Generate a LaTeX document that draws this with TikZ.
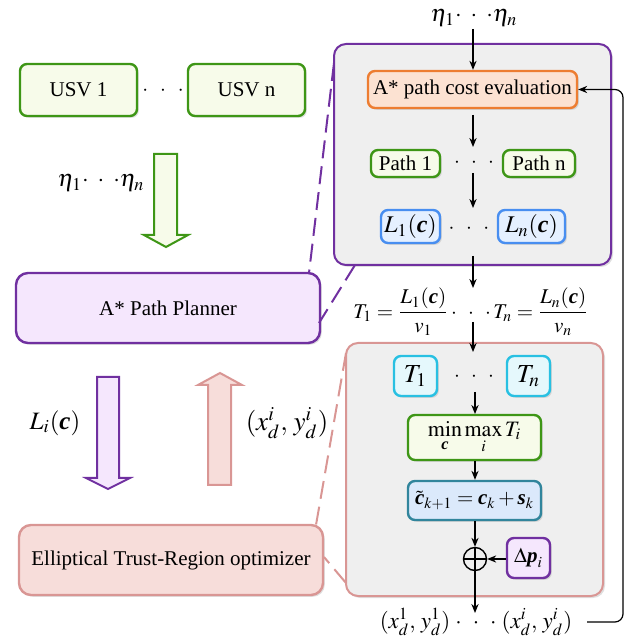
\documentclass[tikz,border=0pt]{standalone}
\usepackage{amsmath}
\usepackage{mathptmx}
\usepackage{fontspec}
\setmainfont{Liberation Serif}
\usetikzlibrary{shadows,arrows.meta,calc}
\definecolor{grnB}{RGB}{62,150,22}
\definecolor{grnF}{RGB}{247,251,234}
\definecolor{orB}{RGB}{237,125,49}
\definecolor{orF}{RGB}{252,226,210}
\definecolor{bluB}{RGB}{72,142,240}
\definecolor{bluF}{RGB}{229,240,255}
\definecolor{purB}{RGB}{112,48,160}
\definecolor{purF}{RGB}{245,231,253}
\definecolor{cyB}{RGB}{40,192,226}
\definecolor{cyF}{RGB}{229,248,252}
\definecolor{tealB}{RGB}{49,133,156}
\definecolor{tealF}{RGB}{219,233,251}
\definecolor{pinkB}{RGB}{217,150,148}
\definecolor{pinkF}{RGB}{247,221,218}
\definecolor{grayF}{RGB}{239,239,239}
\newcommand{\bv}[1]{\text{\bfseries\itshape #1}}
\newcommand{\tdots}[1]{{\cdot}\hspace{#1}{\cdot}\hspace{#1}{\cdot}}
\tikzset{
  bx/.style={draw, line width=1.2pt, rounded corners=3.5pt, inner sep=0pt,
    drop shadow={opacity=0.25, shadow xshift=0.9pt, shadow yshift=-0.9pt}},
  bigbx/.style={draw, line width=1pt, rounded corners=6pt, inner sep=0pt,
    drop shadow={opacity=0.25, shadow xshift=1pt, shadow yshift=-1pt}},
  grnbox/.style={bx, draw=grnB, fill=grnF},
  orbox/.style={bx, draw=orB, fill=orF},
  blubox/.style={bx, draw=bluB, fill=bluF},
  purbox/.style={bx, draw=purB, fill=purF},
  cybox/.style={bx, draw=cyB, fill=cyF},
  tealbox/.style={bx, draw=tealB, fill=tealF},
  pinkbox/.style={bx, draw=pinkB, fill=pinkF},
  wh/.style 2 args={minimum width=#1pt, minimum height=#2pt},
  mth/.style={font=\fontsize{12}{14}\selectfont},
  arr/.style={-{Stealth[length=4.5pt,width=3.6pt]}, line width=0.6pt},
  hollow/.style={line width=1pt, line join=miter},
  dashpur/.style={draw=purB, line width=1pt, dash pattern=on 9pt off 4pt},
  dashpink/.style={draw=pinkB, line width=1pt, dash pattern=on 9pt off 4pt},
}
\begin{document}
\begin{tikzpicture}[x=0.5pt,y=-0.5pt,
  every node/.style={font=\fontsize{10.5}{12.6}\selectfont}]
\useasboundingbox (0,0) rectangle (644,642);

% ---------- left column ----------
\node[grnbox, wh={58.5}{26}] (usv1) at (78.5,90) {USV 1};
\node[grnbox, wh={58.5}{26}] (usvn) at (246.5,90) {USV n};
\node (udots) at (163,91) {$\tdots{6pt}$};

\draw[hollow, draw=grnB, fill=grnF] (154,154) -- (177,154) -- (177,235) -- (188,235)
  -- (166,247) -- (144,235) -- (154,235) -- cycle;
\node[mth] (etaL) at (101,183) {$\eta_1\tdots{4.5pt}\eta_n$};

\node[purbox, rounded corners=6pt, wh={152}{35}] (planner) at (168,308) {A* Path Planner};

\draw[hollow, draw=purB, fill=purF] (97,377) -- (119,377) -- (119,478) -- (130,478)
  -- (108,489) -- (86,478) -- (97,478) -- cycle;
\draw[hollow, draw=pinkB, fill=pinkF] (208,485) -- (231,485) -- (231,385) -- (242,385)
  -- (220,373) -- (198,385) -- (208,385) -- cycle;
\node[font=\fontsize{12.5}{15}\selectfont] (liL) at (55,423) {$L_i(\bv c)$};
\node[font=\fontsize{13.5}{16}\selectfont] (xyL) at (287,423) {$(x_d^i,\,y_d^i)$};

\node[pinkbox, rounded corners=6pt, wh={152}{35}] (etr) at (171,560) {Elliptical Trust-Region optimizer};

% ---------- upper right block ----------
\node[bigbx, draw=purB, fill=grayF, wh={138.5}{110.5}] (g1) at (472.5,154.5) {};
\node[mth, inner ysep=1pt] (etaT) at (474,18) {$\eta_1\tdots{4.5pt}\eta_n$};
\node[orbox, wh={104.5}{18.5}] (eval) at (472.5,89.5) {A* path cost evaluation};
\node[grnbox, wh={34.5}{13.5}] (path1) at (405.5,163.5) {Path 1};
\node[grnbox, wh={36}{13.5}] (pathn) at (539,163.5) {Path n};
\node (pdots) at (474,163) {$\tdots{5.6pt}$};
\node[blubox, mth, wh={29.5}{16.5}] (l1) at (410.5,226.5) {$L_1(\bv c)$};
\node[blubox, mth, wh={33.5}{16.5}] (ln) at (531.5,226.5) {$L_n(\bv c)$};
\node (ldots) at (469,229) {$\tdots{5.8pt}$};

% ---------- formula ----------
\node (tform) at (471,312) {$T_1=\dfrac{L_1(\bv c)}{v_1}\,\tdots{5.6pt}\,T_n=\dfrac{L_n(\bv c)}{v_n}$};

% ---------- lower right block ----------
\node[bigbx, draw=pinkB, fill=grayF, wh={128.5}{126.5}] (g2) at (474.5,469.5) {};
\node[cybox, font=\fontsize{13}{15}\selectfont, wh={21.5}{20}] (t1) at (415.5,376) {$T_1$};
\node[cybox, font=\fontsize{13}{15}\selectfont, wh={21.5}{20}] (tn) at (528.5,376) {$T_n$};
\node (tdots) at (474,377) {$\tdots{5.6pt}$};
\node[grnbox, font=\fontsize{11}{13}\selectfont, wh={66.5}{22.5}] (minmax) at (474.5,437.5) {$\displaystyle\min_{\bv c}\max_{i} T_i$};
\node[tealbox, wh={66.5}{19.5}] (upd) at (474.5,500.5) {$\tilde{\bv c}_{k+1}=\bv c_k+\bv s_k$};
\node[draw, circle, line width=0.7pt, minimum size=11.5pt, inner sep=0pt,
  path picture={\draw[line width=0.7pt] (path picture bounding box.north) -- (path picture bounding box.south)
     (path picture bounding box.west) -- (path picture bounding box.east);}] (plus) at (475,559) {};
\node[purbox, wh={21.5}{20}] (dp) at (528.5,558) {$\Delta\bv p_i$};
\node[font=\fontsize{11.5}{14}\selectfont] (xyB) at (476,622) {$(x_d^1,\,y_d^1)\;\tdots{5.5pt}\;(x_d^i,\,y_d^i)$};

% ---------- arrows ----------
\coordinate (a1s) at (473,115); \coordinate (a1e) at (473,147);
\coordinate (a2s) at (473,173); \coordinate (a2e) at (473,208);
\coordinate (a3s) at (473,256); \coordinate (a3e) at (473,288);
\coordinate (a4s) at (473,322); \coordinate (a4e) at (473,352);
\coordinate (a5s) at (475,392); \coordinate (a5e) at (475,414);
\coordinate (fbS) at (587,622); \coordinate (fbC) at (623,622);
\draw[arr] (etaT.south -| eval.north) ++(0.5,0) -- ($(eval.north)+(0.5,0)$);
\draw[arr] (a1s) -- (a1e);
\draw[arr] (a2s) -- (a2e);
\draw[arr] (a3s) -- (a3e);
\draw[arr] (a4s) -- (a4e);
\draw[arr] (a5s) -- (a5e);
\draw[arr] (minmax.south -| plus) -- (upd.north -| plus);
\draw[arr] (upd.south -| plus) -- (plus.north);
\draw[arr] (dp.west |- plus) -- (plus.east);
\draw[arr] (plus.south) -- (plus.south |- 0,613);
\draw[arr, rounded corners=4pt] (fbS) -- (fbC) -- (fbC |- eval.east) -- (eval.east);

% ---------- zoom (dashed) lines ----------
\coordinate (d1a) at (334,63);  \coordinate (d1b) at (309,273);
\coordinate (d2a) at (355,265); \coordinate (d2b) at (319,323);
\coordinate (d3a) at (346,353); \coordinate (d3b) at (316,525);
\coordinate (d4a) at (346,583); \coordinate (d4b) at (324,557);
\draw[dashpur] (d1a) -- (d1b);
\draw[dashpur] (d2a) -- (d2b);
\draw[dashpink] (d3a) -- (d3b);
\draw[dashpink] (d4a) -- (d4b);
\end{tikzpicture}
\end{document}
